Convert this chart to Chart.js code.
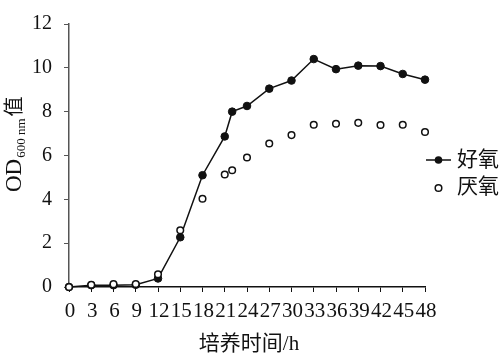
<!DOCTYPE html>
<html>
<head>
<meta charset="utf-8">
<script src="https://cdn.jsdelivr.net/npm/chart.js@4"></script>
<style>
  html, body { margin: 0; padding: 0; background: #fff; }
  #wrap { width: 500px; height: 359px; position: relative; }
</style>
</head>
<body>
<div id="wrap"><canvas id="growth-chart"></canvas></div>
<script>
// ===== DATA =====
const hours = [0, 3, 6, 9, 12, 15, 18, 21, 22, 24, 27, 30, 33, 36, 39, 42, 45, 48];
const aerobic = [0, 0.08, 0.08, 0.1, 0.39, 2.27, 5.1, 6.87, 8.0, 8.26, 9.05, 9.42, 10.4, 9.94, 10.1, 10.08, 9.72, 9.46];
const anaerobic = [0, 0.1, 0.13, 0.14, 0.58, 2.59, 4.03, 5.13, 5.33, 5.91, 6.55, 6.93, 7.4, 7.45, 7.49, 7.39, 7.4, 7.07];
const seriesNames = ['好氧', '厌氧'];
const xTitle = '培养时间/h';

const SERIF = '"Liberation Serif", "Times New Roman", serif';
const CJK = '"Liberation Serif", "Noto Sans CJK SC", serif';

const toPoints = vals => vals.map((v, i) => ({ x: hours[i], y: v }));

// legend + axis titles drawn by hand (subscript in y title)
const extras = {
  id: 'extras',
  afterDraw(chart) {
    const { ctx, chartArea } = chart;
    ctx.save();
    ctx.fillStyle = '#111';
    ctx.strokeStyle = '#111';

    // legend
    const lx = chartArea.right + 1;
    ctx.lineWidth = 1.5;
    ctx.beginPath();
    ctx.moveTo(lx, 160);
    ctx.lineTo(lx + 25, 160);
    ctx.stroke();
    ctx.beginPath();
    ctx.arc(lx + 12.5, 160, 3.8, 0, Math.PI * 2);
    ctx.fill();
    ctx.beginPath();
    ctx.arc(lx + 12.5, 188, 3.3, 0, Math.PI * 2);
    ctx.fillStyle = '#fff';
    ctx.fill();
    ctx.stroke();
    ctx.fillStyle = '#111';
    ctx.font = '21px ' + CJK;
    ctx.textBaseline = 'middle';
    ctx.textAlign = 'left';
    ctx.fillText(seriesNames[0], lx + 31, 160);
    ctx.fillText(seriesNames[1], lx + 31, 187);

    // x title
    ctx.textAlign = 'center';
    ctx.font = '21px ' + CJK;
    ctx.fillText(xTitle, 249, 344);

    // y title: OD + subscript + 值, rotated
    ctx.translate(13, 192);
    ctx.rotate(-Math.PI / 2);
    ctx.textAlign = 'left';
    ctx.textBaseline = 'alphabetic';
    ctx.font = '23px ' + SERIF;
    ctx.fillText('OD', 0, 8);
    let w = ctx.measureText('OD').width;
    ctx.font = '13px ' + SERIF;
    ctx.fillText('600 nm', w + 1, 12);
    w += ctx.measureText('600 nm').width + 3;
    ctx.font = '20px ' + CJK;
    ctx.fillText('值', w, 8);
    ctx.restore();
  }
};

const ctx = document.getElementById('growth-chart').getContext('2d');
new Chart(ctx, {
  type: 'line',
  data: {
    datasets: [
      {
        label: seriesNames[0],
        data: toPoints(aerobic),
        borderColor: '#111',
        borderWidth: 1.5,
        backgroundColor: '#111',
        pointBackgroundColor: '#111',
        pointBorderColor: '#111',
        pointRadius: 3.8,
        pointBorderWidth: 1,
        tension: 0,
        clip: false,
        order: 1
      },
      {
        label: seriesNames[1],
        data: toPoints(anaerobic),
        showLine: false,
        borderColor: '#111',
        pointBackgroundColor: '#fff',
        pointBorderColor: '#111',
        pointRadius: 3.3,
        pointBorderWidth: 1.5,
        clip: false,
        order: 0
      }
    ]
  },
  options: {
    responsive: true,
    maintainAspectRatio: false,
    animation: false,
    events: [],
    layout: { padding: { top: 11, right: 75, left: 0, bottom: 0 } },
    plugins: { legend: { display: false }, tooltip: { enabled: false } },
    scales: {
      x: {
        type: 'linear',
        min: 0,
        max: 48,
        afterFit(scale) { scale.height = 72; },
        border: { display: true, color: '#111', width: 1.5 },
        grid: { drawOnChartArea: false, drawTicks: true, tickLength: 5, color: '#111', lineWidth: 1 },
        ticks: {
          stepSize: 3,
          autoSkip: false,
          maxRotation: 0,
          padding: 7,
          labelOffset: 1,
          color: '#111',
          font: { family: SERIF, size: 21 }
        }
      },
      y: {
        min: 0,
        max: 12,
        afterFit(scale) { scale.width = 69; },
        border: { display: true, color: '#555', width: 1.5 },
        grid: { drawOnChartArea: false, drawTicks: true, tickLength: 5, color: '#555', lineWidth: 1 },
        ticks: {
          stepSize: 2,
          padding: 12,
          color: '#111',
          font: { family: SERIF, size: 20 }
        }
      }
    }
  },
  plugins: [extras]
});
</script>
</body>
</html>
